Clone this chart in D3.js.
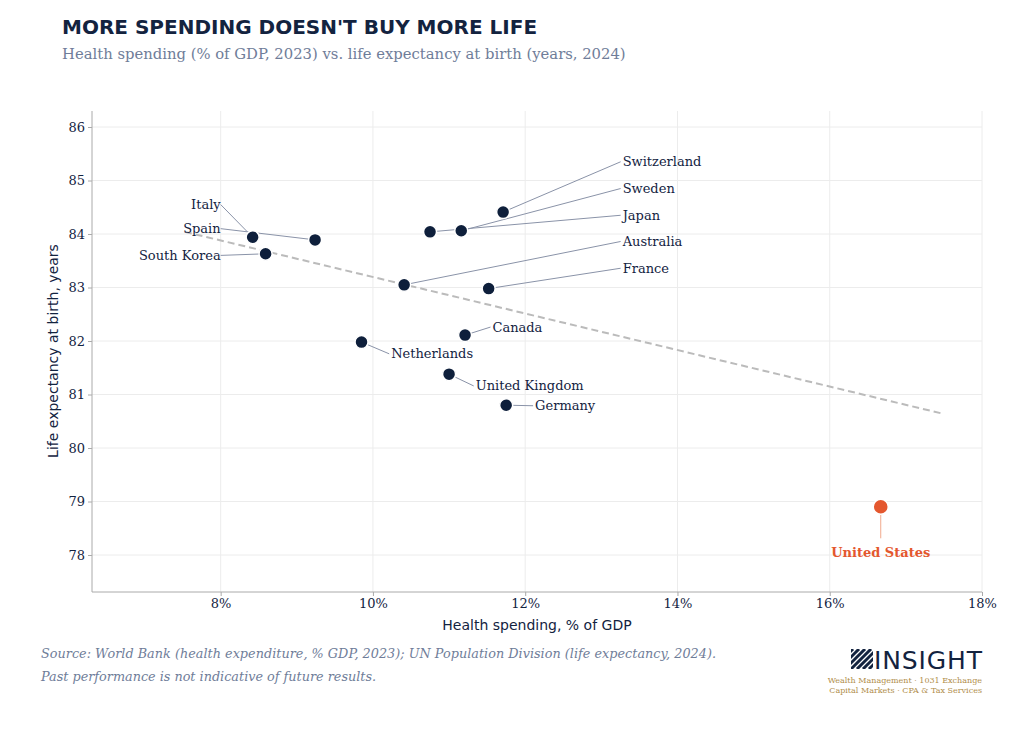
<!DOCTYPE html><html><head><meta charset="utf-8">
<script src="https://cdn.jsdelivr.net/npm/d3@7"></script>
<style>body{margin:0;background:#fff}</style></head><body>
<svg id="c" width="1024" height="741"></svg>
<script>
const countries=["Switzerland","Sweden","Japan","Australia","France","Italy","Spain","South Korea","Canada","Netherlands","United Kingdom","Germany","United States"];
const spending=[11.71,11.16,10.75,10.41,11.52,8.42,9.24,8.59,11.21,9.85,11.00,11.75,16.67];
const lifeExp=[84.41,84.06,84.04,83.05,82.98,83.94,83.89,83.63,82.11,81.98,81.38,80.80,78.90];
const labelX=[13.28,13.28,13.28,13.28,13.28,8.0,8.0,8.0,11.57,10.24,11.35,12.13,16.67];
const labelY=[85.35,84.85,84.35,83.86,83.36,84.55,84.10,83.60,82.26,81.76,81.16,80.79,78.05];
const labelAnchor=["start","start","start","start","start","end","end","end","start","start","start","start","middle"];
const trendX=[7.53,17.46], trendY=[84.04,80.65];
const xTicks=[8,10,12,14,16,18], yTicks=[78,79,80,81,82,83,84,85,86];
const svg=d3.select("#c");
const x=d3.scaleLinear().domain([6.31,18]).range([92,982]);
const y=d3.scaleLinear().domain([86,78]).range([127,555]);
const plotTop=111,plotBot=592;
svg.append("text").attr("x",62).attr("y",34).text("MORE SPENDING DOESN'T BUY MORE LIFE").attr("font-family","DejaVu Sans").attr("font-weight","bold").attr("font-size",20).attr("fill","#13233f");
svg.append("text").attr("x",62).attr("y",59).text("Health spending (% of GDP, 2023) vs. life expectancy at birth (years, 2024)").attr("font-family","DejaVu Serif").attr("font-size",14.8).attr("fill","#6f7d99");
xTicks.forEach(t=>svg.append("line").attr("x1",x(t)).attr("x2",x(t)).attr("y1",plotTop).attr("y2",plotBot).attr("stroke","#ececec"));
yTicks.forEach(t=>svg.append("line").attr("x1",92).attr("x2",982).attr("y1",y(t)).attr("y2",y(t)).attr("stroke","#ececec"));
const gx=svg.append("g").attr("transform",`translate(0,${plotBot})`).call(d3.axisBottom(x).tickValues(xTicks).tickFormat(d=>d+"%").tickSize(4));
const gy=svg.append("g").attr("transform",`translate(92,0)`).call(d3.axisLeft(y).tickValues(yTicks).tickSize(4));
[gx,gy].forEach(g=>{g.select(".domain").attr("stroke","#aaa");g.selectAll(".tick line").attr("stroke","#aaa");g.selectAll("text").attr("font-family","DejaVu Serif").attr("font-size",13).attr("fill","#13233f");});
gx.select(".domain").attr("d",`M92,0H982`);
gy.select(".domain").attr("d",`M0,${plotTop}V${plotBot}`);
svg.append("text").attr("x",537).attr("y",630).attr("text-anchor","middle").text("Health spending, % of GDP").attr("font-family","DejaVu Sans").attr("font-size",14).attr("fill","#13233f");
svg.append("text").attr("transform","translate(58,351) rotate(-90)").attr("text-anchor","middle").text("Life expectancy at birth, years").attr("font-family","DejaVu Sans").attr("font-size",14).attr("fill","#13233f");
svg.append("line").attr("x1",x(trendX[0])).attr("y1",y(trendY[0])).attr("x2",x(trendX[1])).attr("y2",y(trendY[1])).attr("stroke","#bbb").attr("stroke-width",2).attr("stroke-dasharray","7,4");
countries.forEach((c,i)=>{
  const us=i===12;
  const lx=x(labelX[i]), ly=y(labelY[i]);
  let ex=lx, ey=ly;
  if(us){ey=ly-14;}
  else if(labelAnchor[i]==="start"){ex=lx-2;}
  svg.append("line").attr("x1",x(spending[i])).attr("y1",y(lifeExp[i])).attr("x2",ex).attr("y2",ey).attr("stroke",us?"#f1a98c":"#8a93a8").attr("stroke-width",1);
});
countries.forEach((c,i)=>{
  const us=i===12;
  svg.append("circle").attr("cx",x(spending[i])).attr("cy",y(lifeExp[i])).attr("r",us?7.5:6.5).attr("fill",us?"#e4572e":"#0e1f3b").attr("stroke","#fff").attr("stroke-width",1.5);
  svg.append("text").attr("x",x(labelX[i])).attr("y",y(labelY[i])).attr("dy","0.35em").attr("text-anchor",labelAnchor[i]).text(c).attr("font-family","DejaVu Serif").attr("font-size",13).attr("font-weight",us?"bold":"normal").attr("fill",us?"#e4572e":"#13233f");
});
svg.append("text").attr("x",41).attr("y",658).text("Source: World Bank (health expenditure, % GDP, 2023); UN Population Division (life expectancy, 2024).").attr("font-family","DejaVu Serif").attr("font-style","italic").attr("font-size",12.8).attr("fill","#6f7d99").attr("textLength",675);
svg.append("text").attr("x",41).attr("y",681).text("Past performance is not indicative of future results.").attr("font-family","DejaVu Serif").attr("font-style","italic").attr("font-size",12.8).attr("fill","#6f7d99");
const lg=svg.append("g");
lg.append("clipPath").attr("id","lc").append("rect").attr("x",851).attr("y",649).attr("width",22).attr("height",20);
for(let k=-4;k<8;k++) lg.append("line").attr("clip-path","url(#lc)").attr("x1",851+k*6).attr("y1",669).attr("x2",851+k*6+20).attr("y2",649).attr("stroke","#13233f").attr("stroke-width",3);
lg.append("text").attr("x",874).attr("y",669).text("INSIGHT").attr("font-family","DejaVu Sans").attr("font-size",25).attr("fill","#13233f").attr("textLength",108);
lg.append("text").attr("x",982).attr("y",683).attr("text-anchor","end").text("Wealth Management · 1031 Exchange").attr("font-family","DejaVu Serif").attr("font-size",8).attr("fill","#b08d4a");
lg.append("text").attr("x",982).attr("y",693).attr("text-anchor","end").text("Capital Markets · CPA & Tax Services").attr("font-family","DejaVu Serif").attr("font-size",8).attr("fill","#b08d4a");
</script></body></html>
